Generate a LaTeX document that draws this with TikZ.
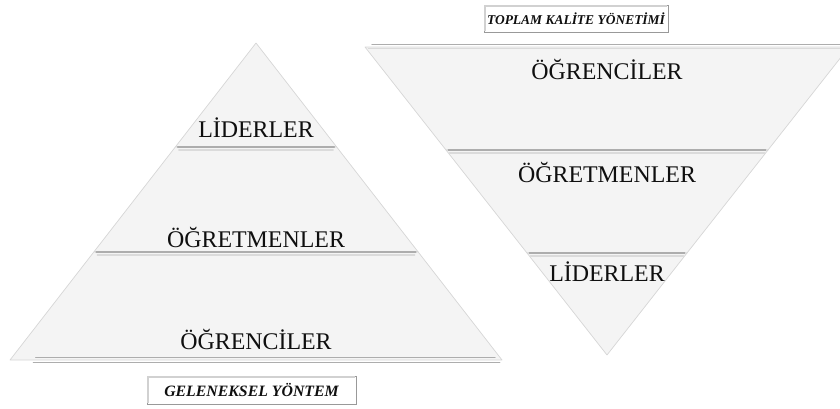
\documentclass[tikz,border=0pt]{standalone}
\usepackage{fontspec}
\setmainfont{Liberation Serif}
\definecolor{panel}{gray}{0.955}
\definecolor{edge}{gray}{0.84}
\definecolor{ruledark}{gray}{0.68}
\definecolor{rulelight}{gray}{0.86}
\definecolor{ink}{gray}{0.06}
\definecolor{boxedge}{gray}{0.6}
\definecolor{boxshade}{gray}{0.82}
\begin{document}
\begin{tikzpicture}[x=0.03cm,y=-0.03cm,
  layer/.style={fill=panel, draw=edge, line width=0.6pt, line join=round},
  rule/.style={draw=ruledark, line width=1.3pt, line cap=round},
  softrule/.style={draw=rulelight, line width=1pt, line cap=round},
  tier/.style={font=\fontsize{20.4}{24}\selectfont, text=ink, inner sep=0pt},
  caption/.style={draw=boxedge, fill=white, line width=0.8pt,
    text=ink, inner sep=0pt, minimum height=0.84cm}]
\useasboundingbox (0,0) rectangle (840,408);

% ---- traditional pyramid (leaders on top) ----
\coordinate (pa) at (256,43);
\coordinate (p1l) at (175.3,147); \coordinate (p1r) at (336.7,147);
\coordinate (p2l) at (93.8,252);  \coordinate (p2r) at (418.2,252);
\coordinate (p3l) at (10,360);    \coordinate (p3r) at (502,360);

\path[layer] (pa) -- (p1r) -- (p1l) -- cycle;
\path[layer] (p1l) -- (p1r) -- (p2r) -- (p2l) -- cycle;
\path[layer] (p2l) -- (p2r) -- (p3r) -- (p3l) -- cycle;

\draw[rule] ([xshift=2]p1l) -- ([xshift=-2]p1r);
\draw[softrule] ([xshift=3,yshift=-2.5]p1l) -- ([xshift=-3,yshift=-2.5]p1r);
\draw[rule] ([xshift=2]p2l) -- ([xshift=-2]p2r);
\draw[softrule] ([xshift=3,yshift=-2.5]p2l) -- ([xshift=-3,yshift=-2.5]p2r);
\draw[rule] ([xshift=20,yshift=-2]p3l) -- ([xshift=-2,yshift=-2]p3r);
\draw[rule] ([xshift=22,yshift=2]p3l) -- ([xshift=-6,yshift=2]p3r);

\node[tier] (pl) at (256,128) {LİDERLER};
\node[tier] (pt) at (256,237) {ÖĞRETMENLER};
\node[tier] (ps) at (256,339) {ÖĞRENCİLER};

\node[caption, minimum width=6.27cm,
  font=\fontsize{13.5}{16}\selectfont\bfseries\itshape] (cg) at (251.5,390) {GELENEKSEL YÖNTEM};
\draw[boxshade, line width=1pt] ([shift={(1.2pt,1.2pt)}]cg.south west) |- ([shift={(-1.2pt,-1.2pt)}]cg.north east);

% ---- total quality management: inverted pyramid ----
\begin{scope}
\clip (0,0) rectangle (840,408);
\coordinate (qa) at (607,355);
\coordinate (q0l) at (365,47);    \coordinate (q0r) at (849,47);
\coordinate (q1l) at (446,150);   \coordinate (q1r) at (768,150);
\coordinate (q2l) at (527,253);   \coordinate (q2r) at (687,253);

\path[layer] (q0l) -- (q0r) -- (q1r) -- (q1l) -- cycle;
\path[layer] (q1l) -- (q1r) -- (q2r) -- (q2l) -- cycle;
\path[layer] (q2l) -- (q2r) -- (qa) -- cycle;

\draw[rule] ([xshift=6,yshift=2]q0l) -- ([xshift=-6,yshift=2]q0r);
\draw[softrule] ([xshift=3,yshift=-1]q0l) -- ([xshift=-3,yshift=-1]q0r);
\draw[rule] ([xshift=2]q1l) -- ([xshift=-2]q1r);
\draw[softrule] ([xshift=3,yshift=-2.5]q1l) -- ([xshift=-3,yshift=-2.5]q1r);
\draw[rule] ([xshift=2]q2l) -- ([xshift=-2]q2r);
\draw[softrule] ([xshift=3,yshift=-2.5]q2l) -- ([xshift=-3,yshift=-2.5]q2r);
\end{scope}

\node[tier] (qs) at (607,69) {ÖĞRENCİLER};
\node[tier] (qt) at (607,172) {ÖĞRETMENLER};
\node[tier] (ql) at (607,272) {LİDERLER};

\node[caption, minimum width=5.52cm, minimum height=0.81cm,
  font=\fontsize{11.5}{14}\selectfont\bfseries\itshape] (ck) at (576,18.5) {TOPLAM KALİTE YÖNETİMİ};
\draw[boxshade, line width=1pt] ([shift={(1.2pt,1.2pt)}]ck.south west) |- ([shift={(-1.2pt,-1.2pt)}]ck.north east);
\end{tikzpicture}
\end{document}
